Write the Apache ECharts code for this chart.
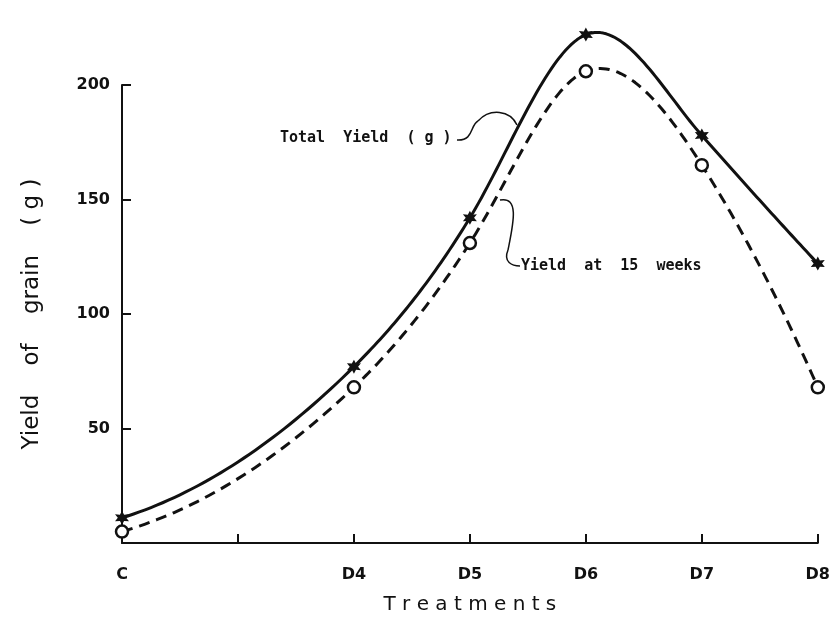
<!DOCTYPE html>
<html>
<head>
<meta charset="utf-8">
<script src="https://cdn.jsdelivr.net/npm/echarts@6/dist/echarts.min.js"></script>
<style>
html,body{margin:0;padding:0;background:#fff;}
#c{width:833px;height:628px;}
</style>
</head>
<body>
<div id="c"></div>
<script>
// Category positions on the treatment axis (index 1 is an unlabeled tick)
const tickLabels = ['C', '', 'D4', 'D5', 'D6', 'D7', 'D8'];
const treatmentPos = [0, 2, 3, 4, 5, 6];
const totalYield = [11, 77, 142, 222, 178, 122];
const yield15Weeks = [5, 68, 131, 206, 165, 68];
const yTicks = [50, 100, 150, 200];

const toPairs = (vals) => vals.map((v, i) => [treatmentPos[i], v]);

const starPath = 'path://M0,-10 L2.6,-4.5 L8.7,-5 L5.2,0 L8.7,5 L2.6,4.5 L0,10 L-2.6,4.5 L-8.7,5 L-5.2,0 L-8.7,-5 L-2.6,-4.5 Z';
const font = 'DejaVu Sans';
const mono = 'DejaVu Sans Mono';
const TENSION = 1.15;

// Smooth hand-drawn style curve through the data points (cubic Hermite in pixel space)
function curvePoints(api, vals) {
  const p = vals.map((v, i) => api.coord([treatmentPos[i], v]));
  const n = p.length;
  const sec = [];
  for (let i = 0; i < n - 1; i++) sec.push((p[i + 1][1] - p[i][1]) / (p[i + 1][0] - p[i][0]));
  const m = new Array(n);
  for (let i = 1; i < n - 1; i++) m[i] = TENSION * (p[i + 1][1] - p[i - 1][1]) / (p[i + 1][0] - p[i - 1][0]);
  m[0] = 2 * sec[0] - m[1];
  m[n - 1] = 2 * sec[n - 2] - m[n - 2];
  const out = [p[0].slice()];
  for (let i = 0; i < n - 1; i++) {
    const h = p[i + 1][0] - p[i][0];
    const c1 = [p[i][0] + h / 3, p[i][1] + m[i] * h / 3];
    const c2 = [p[i + 1][0] - h / 3, p[i + 1][1] - m[i + 1] * h / 3];
    const steps = 40;
    for (let s = 1; s <= steps; s++) {
      const t = s / steps, u = 1 - t;
      out.push([
        u * u * u * p[i][0] + 3 * u * u * t * c1[0] + 3 * u * t * t * c2[0] + t * t * t * p[i + 1][0],
        u * u * u * p[i][1] + 3 * u * u * t * c1[1] + 3 * u * t * t * c2[1] + t * t * t * p[i + 1][1]
      ]);
    }
  }
  return out;
}

function curveSeries(vals, dash) {
  return {
    type: 'custom', data: toPairs(vals), encode: { x: 0, y: 1 }, clip: false, silent: true,
    renderItem: (params, api) => {
      if (params.dataIndex !== 0) return null;
      return {
        type: 'polyline',
        shape: { points: curvePoints(api, vals) },
        style: { stroke: '#111', lineWidth: 3, fill: null, lineDash: dash, lineJoin: 'round' }
      };
    }
  };
}

const chart = echarts.init(document.getElementById('c'));
chart.setOption({
  backgroundColor: '#ffffff',
  animation: false,
  grid: { left: 122, right: 14, top: 85, bottom: 85 },
  xAxis: {
    type: 'value', min: 0, max: 6, interval: 1,
    name: 'T r e a t m e n t s',
    nameLocation: 'middle', nameGap: 52,
    nameTextStyle: { fontFamily: font, fontSize: 20, color: '#111' },
    axisLine: { lineStyle: { color: '#111', width: 2 } },
    axisTick: { inside: true, length: 9, lineStyle: { color: '#111', width: 2 } },
    axisLabel: {
      margin: 24, fontFamily: font, fontSize: 16, fontWeight: 'bold', color: '#111',
      formatter: (v) => tickLabels[v] || ''
    },
    splitLine: { show: false }
  },
  yAxis: {
    type: 'value', min: 0, max: 200, interval: 50,
    name: 'Yield    of    grain    ( g )',
    nameLocation: 'middle', nameGap: 78, nameRotate: 90,
    nameTextStyle: { fontFamily: font, fontSize: 23, color: '#111' },
    axisLine: { show: true, lineStyle: { color: '#111', width: 2 } },
    axisTick: { show: true, inside: true, length: 9, lineStyle: { color: '#111', width: 2 } },
    axisLabel: {
      margin: 12, fontFamily: font, fontSize: 16, fontWeight: 'bold', color: '#111',
      formatter: (v) => yTicks.indexOf(v) >= 0 ? String(v) : ''
    },
    splitLine: { show: false }
  },
  series: [
    curveSeries(totalYield, null),
    curveSeries(yield15Weeks, [11, 7]),
    {
      name: 'Total Yield (g)', type: 'scatter', data: toPairs(totalYield), clip: false,
      symbol: starPath, symbolSize: 14,
      itemStyle: { color: '#111', opacity: 1 }
    },
    {
      name: 'Yield at 15 weeks', type: 'scatter', data: toPairs(yield15Weeks), clip: false,
      symbol: 'circle', symbolSize: 12,
      itemStyle: { color: '#fff', borderColor: '#111', borderWidth: 2.5, opacity: 1 }
    }
  ],
  graphic: [
    { type: 'text', left: 280, top: 131,
      style: { text: 'Total  Yield  ( g )', fontFamily: mono, fontSize: 15, fontWeight: 'bold', fill: '#111' } },
    { type: 'bezierCurve',
      shape: { x1: 457, y1: 140, x2: 478, y2: 121, cpx1: 474, cpy1: 141, cpx2: 470, cpy2: 125 },
      style: { stroke: '#111', lineWidth: 1.5, fill: null } },
    { type: 'bezierCurve',
      shape: { x1: 478, y1: 121, x2: 517, y2: 125, cpx1: 490, cpy1: 108, cpx2: 510, cpy2: 110 },
      style: { stroke: '#111', lineWidth: 1.5, fill: null } },
    { type: 'text', left: 521, top: 259,
      style: { text: 'Yield  at  15  weeks', fontFamily: mono, fontSize: 15, fontWeight: 'bold', fill: '#111' } },
    { type: 'bezierCurve',
      shape: { x1: 500, y1: 200, x2: 508, y2: 250, cpx1: 520, cpy1: 196, cpx2: 513, cpy2: 225 },
      style: { stroke: '#111', lineWidth: 1.5, fill: null } },
    { type: 'bezierCurve',
      shape: { x1: 508, y1: 250, x2: 520, y2: 266, cpx1: 503, cpy1: 262, cpx2: 512, cpy2: 266 },
      style: { stroke: '#111', lineWidth: 1.5, fill: null } }
  ]
});
</script>
</body>
</html>
